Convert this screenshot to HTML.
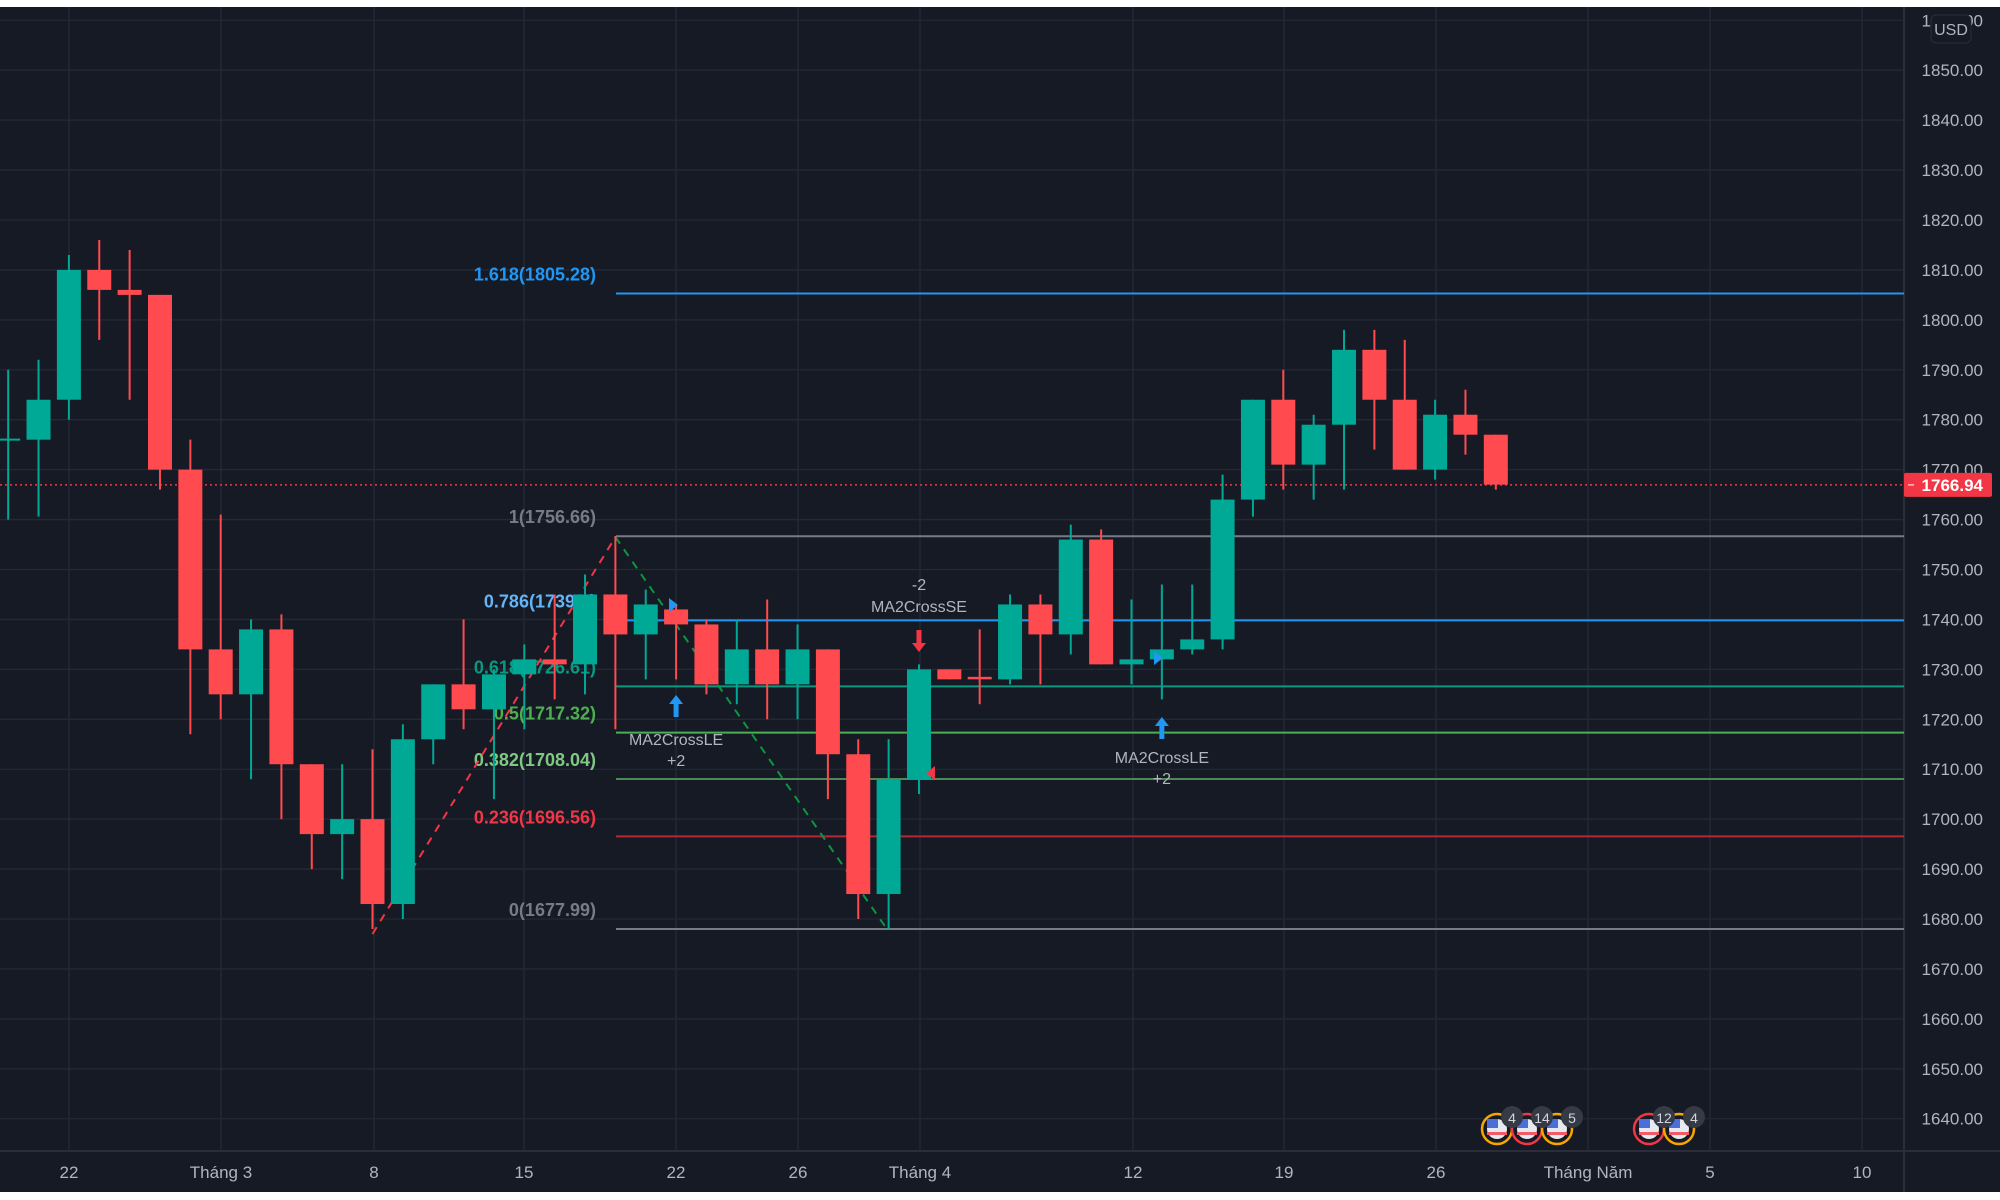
<!DOCTYPE html>
<html><head><meta charset="utf-8"><style>
html,body{margin:0;padding:0;background:#fff;width:2000px;height:1200px;overflow:hidden}
svg{display:block;font-family:"Liberation Sans",sans-serif}
</style></head><body>
<svg id="c" width="2000" height="1200" xmlns="http://www.w3.org/2000/svg"></svg>
<script>
const Y=p=>70.2+(1850-p)*4.993;
const X=i=>68.9+i*30.36;
const G='#089981',GC='#00a896',R='#f23645',RC='#ff4a4f';
let s='';
s+='<rect x="0" y="7" width="2000" height="1185" fill="#161a25"/>';
for(let p=1640;p<=1860;p+=10){const y=Y(p);s+=`<line x1="0" x2="1904" y1="${y}" y2="${y}" stroke="#242936" stroke-width="1.3"/>`;}
const tl=[[69,'22'],[221,'Tháng 3'],[374,'8'],[524,'15'],[676,'22'],[798,'26'],[920,'Tháng 4'],[1133,'12'],[1284,'19'],[1436,'26'],[1588,'Tháng Năm'],[1710,'5'],[1862,'10']];
for(const [x,t] of tl){s+=`<line x1="${x}" x2="${x}" y1="7" y2="1151" stroke="#242936" stroke-width="1.3"/>`;s+=`<text x="${x}" y="1178" fill="#b2b5be" font-size="17" text-anchor="middle">${t}</text>`;}
s+='<line x1="1904" x2="1904" y1="7" y2="1192" stroke="#2a2e39" stroke-width="2"/>';
s+='<line x1="0" x2="2000" y1="1151" y2="1151" stroke="#2a2e39" stroke-width="2"/>';
for(let p=1640;p<=1860;p+=10){const y=Y(p);s+=`<text x="1983" y="${y+6}" fill="#b2b5be" font-size="17" text-anchor="end">${p}.00</text>`;}
s+='<rect x="1931" y="15" width="40" height="28" rx="5" fill="#161a25" stroke="#2a2e39"/><text x="1951" y="35" fill="#b2b5be" font-size="16" text-anchor="middle">USD</text>';
const fib=[[1805.28,'1.618(1805.28)','#2196f3','#2196f3'],[1756.66,'1(1756.66)','#787b86','#787b86'],[1739.8,'0.786(1739.8)','#64b5f6','#2196f3'],[1726.6,'0.618(1726.61)','#089981','#089981'],[1717.32,'0.5(1717.32)','#4caf50','#4caf50'],[1708.04,'0.382(1708.04)','#81c784','#4c8a55'],[1696.56,'0.236(1696.56)','#f23645','#b22833'],[1677.99,'0(1677.99)','#787b86','#787b86']];
for(const [p,t,tc,lc] of fib){const y=Y(p);s+=`<line x1="616" x2="1904" y1="${y}" y2="${y}" stroke="${lc}" stroke-width="2"/>`;s+=`<text x="596" y="${y-13}" fill="${tc}" font-size="18" font-weight="600" text-anchor="end">${t}</text>`;}
s+=`<line x1="${X(10)}" y1="${Y(1677)}" x2="${X(18)}" y2="${Y(1756.5)}" stroke="${R}" stroke-width="2" stroke-dasharray="8,7"/>`;
s+=`<line x1="${X(18)}" y1="${Y(1756.5)}" x2="${X(27)}" y2="${Y(1677.5)}" stroke="#089940" stroke-width="2" stroke-dasharray="8,7"/>`;
s+=`<line x1="0" x2="1904" y1="${Y(1766.94)}" y2="${Y(1766.94)}" stroke="${R}" stroke-width="1.5" stroke-dasharray="2,3"/>`;
const c=[[-2,1776,1790,1760,1776],[-1,1776,1792,1760.6,1784],[0,1784,1813,1780,1810],[1,1810,1816,1796,1806],[2,1806,1814,1784,1805],[3,1805,1805,1766,1770],[4,1770,1776,1717,1734],[5,1734,1761,1720,1725],[6,1725,1740,1708,1738],[7,1738,1741,1700,1711],[8,1711,1711,1690,1697],[9,1697,1711,1688,1700],[10,1700,1714,1678,1683],[11,1683,1719,1680,1716],[12,1716,1727,1711,1727],[13,1727,1740,1718,1722],[14,1722,1730,1704,1729],[15,1729,1735,1718,1732],[16,1732,1745,1724,1731],[17,1731,1749,1725,1745],[18,1745,1756.7,1718,1737],[19,1737,1746,1728,1743],[20,1742,1743,1728,1739],[21,1739,1740,1725,1727],[22,1727,1740,1723,1734],[23,1734,1744,1720,1727],[24,1727,1739,1720,1734],[25,1734,1734,1704,1713],[26,1713,1716,1680,1685],[27,1685,1716,1678,1708],[28,1708,1731,1705,1730],[29,1730,1730,1728,1728],[30,1728.5,1738,1723,1728],[31,1728,1745,1727,1743],[32,1743,1745,1727,1737],[33,1737,1759,1733,1756],[34,1756,1758,1731,1731],[35,1731,1744,1727,1732],[36,1732,1747,1724,1734],[37,1734,1747,1733,1736],[38,1736,1769,1734,1764],[39,1764,1784,1760.6,1784],[40,1784,1790,1766,1771],[41,1771,1781,1764,1779],[42,1779,1798,1766,1794],[43,1794,1798,1774,1784],[44,1784,1796,1770,1770],[45,1770,1784,1768,1781],[46,1781,1786,1773,1777],[47,1777,1777,1766,1767]];
for(const [i,o,h,l,cl] of c){const x=X(i);const up=cl>=o;const col=up?GC:RC;
s+=`<line x1="${x}" x2="${x}" y1="${Y(h)}" y2="${Y(l)}" stroke="${col}" stroke-width="2"/>`;
const t=Y(Math.max(o,cl)),b=Y(Math.min(o,cl));
if(b-t<2)s+=`<line x1="${x-12}" x2="${x+12}" y1="${t}" y2="${t}" stroke="${col}" stroke-width="2"/>`;
else s+=`<rect x="${x-12}" y="${t}" width="24" height="${b-t}" fill="${col}"/>`;}
function up(x,y){return `<path d="M${x} ${y} l-7 9 h4.5 v13 h5 v-13 h4.5z" fill="#2196f3"/>`;}
s+=up(X(20),695)+`<text x="${X(20)}" y="745" fill="#b2b5be" font-size="16" text-anchor="middle">MA2CrossLE</text><text x="${X(20)}" y="766" fill="#b2b5be" font-size="16" text-anchor="middle">+2</text>`;
s+=up(X(36),717)+`<text x="${X(36)}" y="763" fill="#b2b5be" font-size="16" text-anchor="middle">MA2CrossLE</text><text x="${X(36)}" y="784" fill="#b2b5be" font-size="16" text-anchor="middle">+2</text>`;
const dx=X(28);s+=`<path d="M${dx} 652 l-7 -9 h4.5 v-13 h5 v13 h4.5z" fill="#f23645"/><text x="${dx}" y="590" fill="#b2b5be" font-size="16" text-anchor="middle">-2</text><text x="${dx}" y="612" fill="#b2b5be" font-size="16" text-anchor="middle">MA2CrossSE</text>`;
s+=`<path d="M669 598 l9 7 l-9 7z" fill="#2196f3"/><path d="M1154 651 l9 7 l-9 7z" fill="#2196f3"/><path d="M935 780 l-9 -7 l9 -7z" fill="#f23645"/>`;
const ev=[[1497,'#f7a600','4'],[1527,'#f23645','14'],[1557,'#f7a600','5'],[1649,'#f23645','12'],[1679,'#f7a600','4']];
for(const [x,cc,n] of ev){s+=`<circle cx="${x}" cy="1129" r="15" fill="#161a25" stroke="${cc}" stroke-width="2.5"/><circle cx="${x}" cy="1129" r="10" fill="#e8e8f0"/><rect x="${x-10}" y="1119" width="11" height="9" fill="#4a6fd8"/><rect x="${x-10}" y="1132" width="20" height="3" fill="#f25b66"/>`;}
for(const [x,cc,n] of ev){s+=`<circle cx="${x+15}" cy="1117" r="11" fill="#363a45"/><text x="${x+15}" y="1123" fill="#d1d4dc" font-size="14" text-anchor="middle">${n}</text>`;}
const py=Y(1766.94);s+=`<rect x="1904" y="${py-12}" width="88" height="24" rx="2" fill="#f23645"/><text x="1983" y="${py+6}" fill="#fff" font-size="17" font-weight="bold" text-anchor="end">1766.94</text><line x1="1908" x2="1914" y1="${py}" y2="${py}" stroke="#fff"/>`;
document.getElementById('c').innerHTML=s;
</script>
</body></html>
